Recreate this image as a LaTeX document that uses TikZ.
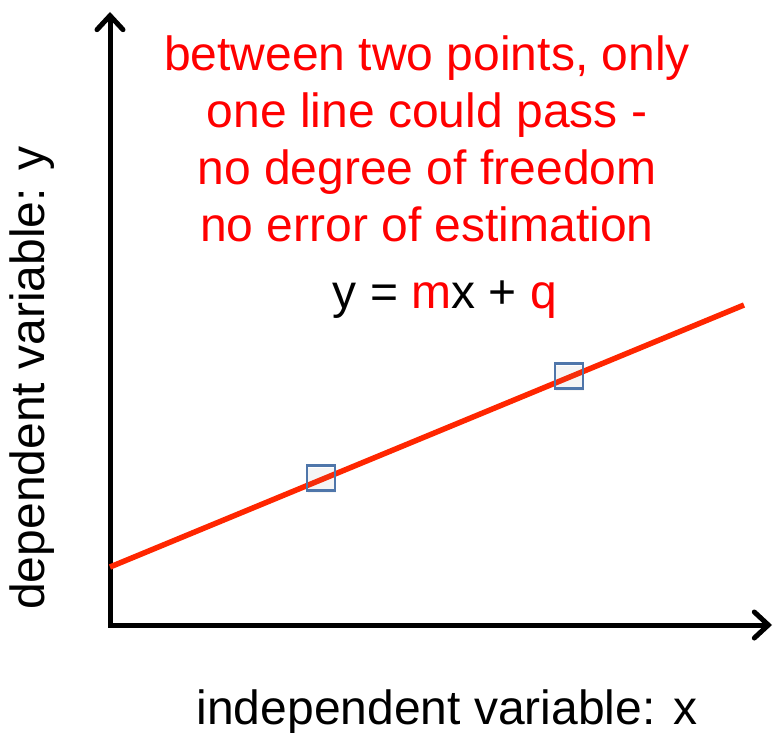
\documentclass[tikz,border=0pt]{standalone}
\usepackage{fontspec}
\setmainfont{Liberation Sans}
\usetikzlibrary{arrows.meta,shadows}
\definecolor{lred}{RGB}{255,38,0}
\definecolor{tred}{RGB}{255,0,0}
\definecolor{sqblue}{RGB}{79,118,170}
\begin{document}
\begin{tikzpicture}[x=1pt,y=-1pt,
  axis/.style={line width=5pt,-{Straight Barb[length=14pt,width=26pt,line cap=round,line width=5pt]}},
  fitline/.style={line width=5.5pt,lred},
  pt/.style={draw=sqblue,line width=2.2pt,minimum width=28pt,minimum height=25pt,inner sep=0pt,drop shadow={opacity=0.08,shadow xshift=1pt,shadow yshift=-2pt}},
  txt/.style={font=\fontsize{48}{57}\selectfont,align=center,inner sep=0pt}]
\useasboundingbox (0,0) rectangle (774,733);
\coordinate (o) at (110,625);
\coordinate (ytip) at (110,12);
\coordinate (xtip) at (772,625);
\draw[axis] (110,627) -- (ytip);
\draw[axis] (108,625) -- (xtip);
\coordinate (l0) at (110,567);
\coordinate (l1) at (744,305);
\draw[fitline] (l0) -- (l1);
\node[pt] (p1) at (321,478) {};
\node[pt] (p2) at (569,376) {};
\node[txt,text=tred,anchor=north] (t) at (427,36) {between two points, only\\one line could pass -\\no degree of freedom\\no error of estimation};
\node[txt] (eq) at (445,300) {y = \textcolor{tred}{m}x + \textcolor{tred}{q}};
\node[txt] (xl) at (447,712) {independent variable: x};
\node[txt,rotate=90] (yl) at (32,378) {dependent variable: y};
\end{tikzpicture}
\end{document}
